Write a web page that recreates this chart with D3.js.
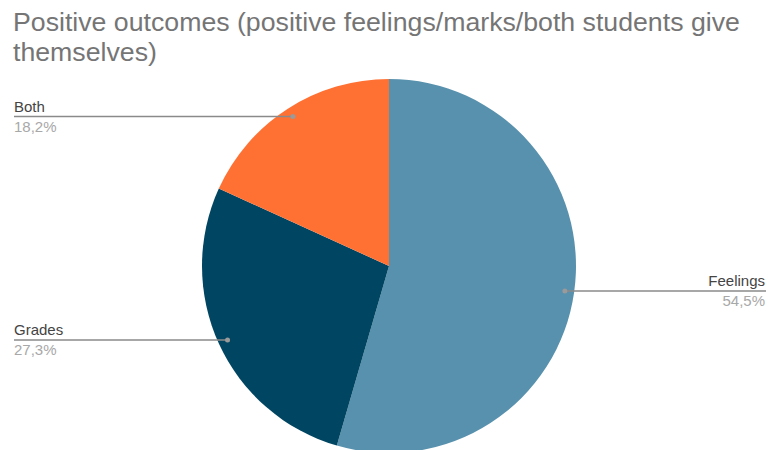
<!DOCTYPE html>
<html>
<head>
<meta charset="utf-8">
<script src="https://cdn.jsdelivr.net/npm/d3@7"></script>
<style>
  html, body { margin: 0; padding: 0; background: #fff; }
  svg { display: block; font-family: "Liberation Sans", Arial, sans-serif; }
</style>
</head>
<body>
<svg id="chart" width="768" height="450"></svg>
<script>
// Share of positive outcomes by type
const categories = ["Feelings", "Grades", "Both"];
const values = [54.5, 27.3, 18.2];
const valueLabels = ["54,5%", "27,3%", "18,2%"];
const colors = ["#5891ad", "#004561", "#ff7033"];
const titleLines = ["Positive outcomes (positive feelings/marks/both students give", "themselves)"];

const svg = d3.select("#chart");
const width = 768, height = 450;
const cx = 389, cy = 266, radius = 187;

// Title
svg.append("text")
  .attr("fill", "#757575")
  .attr("font-size", 26.7)
  .selectAll("tspan")
  .data(titleLines)
  .join("tspan")
  .attr("x", 13)
  .attr("y", (d, i) => 31 + i * 30)
  .text(d => d);

const data = categories.map((c, i) => ({ name: c, value: values[i], label: valueLabels[i], color: colors[i] }));

const pie = d3.pie().value(d => d.value).sort(null);
const arc = d3.arc().innerRadius(0).outerRadius(radius);
const arcs = pie(data);

const g = svg.append("g").attr("transform", `translate(${cx},${cy})`);

g.selectAll("path.slice")
  .data(arcs)
  .join("path")
  .attr("class", "slice")
  .attr("d", arc)
  .attr("fill", d => d.data.color);

// Leader lines and labels
const dotR = radius * 0.95;
arcs.forEach(a => {
  const mid = (a.startAngle + a.endAngle) / 2;
  const px = cx + dotR * Math.sin(mid);
  const py = cy - dotR * Math.cos(mid);
  const right = Math.sin(mid) > 0;
  const endX = right ? width - 2 : 14;

  svg.append("line")
    .attr("x1", px).attr("y1", py)
    .attr("x2", endX).attr("y2", py)
    .attr("stroke", "#8a8a8a")
    .attr("stroke-width", 1.5);

  svg.append("circle")
    .attr("cx", px).attr("cy", py)
    .attr("r", 2.5)
    .attr("fill", "#9a9a9a");

  const anchor = right ? "end" : "start";
  const tx = right ? width - 3 : 14;

  svg.append("text")
    .attr("x", tx).attr("y", py - 5)
    .attr("text-anchor", anchor)
    .attr("font-size", 15)
    .attr("fill", "#444")
    .text(a.data.name);

  svg.append("text")
    .attr("x", tx).attr("y", py + 15)
    .attr("text-anchor", anchor)
    .attr("font-size", 15)
    .attr("fill", "#a8a8a8")
    .text(a.data.label);
});
</script>
</body>
</html>
